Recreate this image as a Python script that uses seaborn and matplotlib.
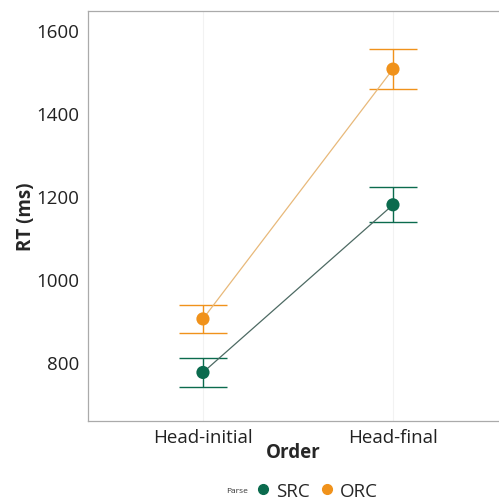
import matplotlib
matplotlib.use("Agg")
import matplotlib.pyplot as plt
import seaborn as sns
import pandas as pd
from matplotlib.lines import Line2D

order = ["Head-initial", "Head-final"]
parse = ["SRC", "ORC"]
src_mean = [775, 1179]
src_lo = [739, 1138]
src_hi = [810, 1221]
orc_mean = [904, 1506]
orc_lo = [871, 1459]
orc_hi = [937, 1554]

colors = {"SRC": "#0b6b4e", "ORC": "#f0921b"}
line_colors = {"SRC": "#4d6a63", "ORC": "#e8b97a"}

df = pd.DataFrame({
    "Order": order * 2,
    "Parse": ["SRC"] * 2 + ["ORC"] * 2,
    "RT": src_mean + orc_mean,
})

sns.set_theme(style="white")
plt.rcParams["font.family"] = ["Open Sans", "DejaVu Sans"]

fig = plt.figure(figsize=(4.99, 5.02), dpi=100)
ax = fig.add_axes([88 / 499, 80 / 502, 411 / 499, 410 / 502])

for x in [0, 1]:
    ax.axvline(x, color="#f2f2f2", lw=0.8, zorder=0)

bounds = {"SRC": (src_lo, src_hi), "ORC": (orc_lo, orc_hi)}
for p in parse:
    lo, hi = bounds[p]
    for i in range(2):
        ax.vlines(i, lo[i], hi[i], color=colors[p], lw=1.0, zorder=2)
        ax.hlines([lo[i], hi[i]], i - 0.125, i + 0.125, color=colors[p], lw=1.0, zorder=2)

for p in parse:
    sub = df[df["Parse"] == p]
    sns.lineplot(data=sub, x="Order", y="RT", ax=ax, color=line_colors[p], lw=0.9,
                 sort=False, legend=False, zorder=3)
    sns.scatterplot(data=sub, x="Order", y="RT", ax=ax, color=colors[p], s=90,
                    edgecolor="none", legend=False, zorder=4)

ax.set_xlim(-0.605, 1.558)
ax.set_ylim(658, 1646)
ax.set_yticks([800, 1000, 1200, 1400, 1600])
ax.tick_params(axis="both", labelsize=13.5, colors="#222222", length=3, width=0.8)
ax.tick_params(axis="x", length=0, pad=5)
ax.tick_params(axis="y", color="#999999")
for s in ["left", "top", "bottom"]:
    ax.spines[s].set_color("#aaaaaa")
    ax.spines[s].set_linewidth(0.9)
ax.spines["right"].set_visible(False)
ax.set_xlabel("Order", fontsize=13.5, fontweight="bold", labelpad=-3)
ax.set_ylabel("RT (ms)", fontsize=13.5, fontweight="bold", labelpad=0)

handles = [Line2D([], [], marker="o", ls="", color=colors[p], markersize=7) for p in parse]
fig.legend(handles, parse, loc="center left", bbox_to_anchor=(254 / 499, 1 - 492 / 502),
           ncol=2, frameon=False, fontsize=13.5, handletextpad=0.2, columnspacing=0.4,
           handlelength=1.0, borderpad=0, borderaxespad=0)
fig.text(248 / 499, 1 - 492 / 502, "Parse", fontsize=6, ha="right", va="center",
         color="#333333")

fig.savefig("out.png", dpi=100)
